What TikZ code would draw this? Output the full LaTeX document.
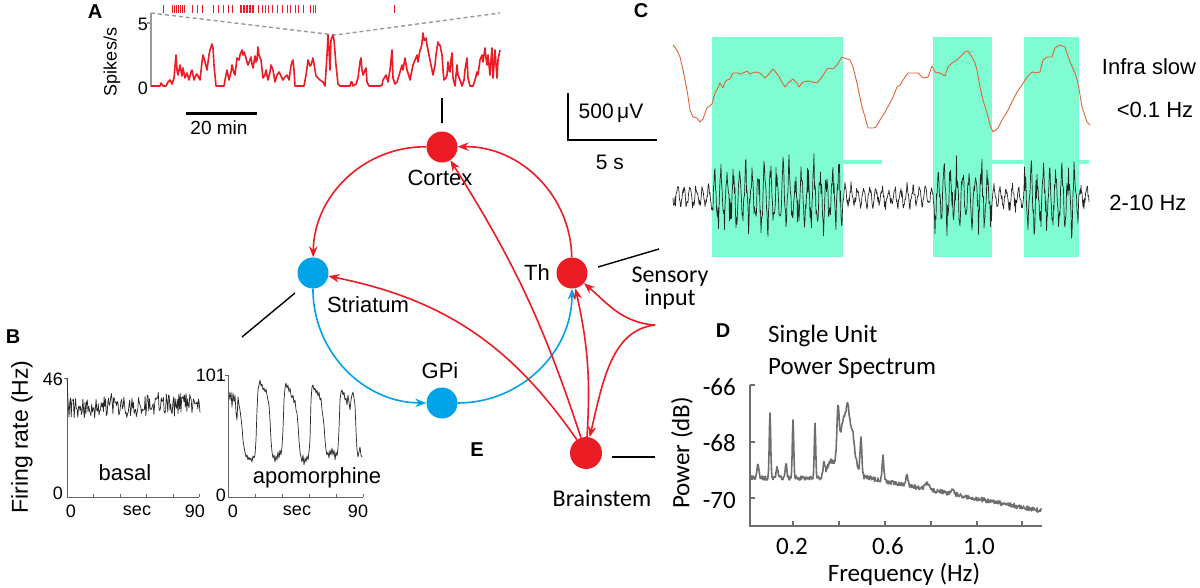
\documentclass[tikz,border=0pt]{standalone}
\usepackage{fontspec}
\setmainfont{Liberation Sans}
\newfontfamily\calib{Carlito}
\usetikzlibrary{arrows.meta}
\definecolor{nred}{HTML}{EC1C24}
\definecolor{nblue}{HTML}{00A2E8}
\definecolor{cgreen}{HTML}{80FCD2}
\definecolor{ctr}{HTML}{E2623A}
\definecolor{dgray}{HTML}{6E6E6E}
\definecolor{agray}{HTML}{999999}
\begin{document}
\begin{tikzpicture}[x=1pt,y=-1pt,
  neuron/.style={circle, inner sep=0pt, minimum size=31pt},
  redn/.style={neuron, fill=nred},
  bluen/.style={neuron, fill=nblue},
  lab/.style={font=\fontsize{22}{24}\selectfont, inner sep=0pt},
  clab/.style={font=\calib\fontsize{24}{26}\selectfont, inner sep=0pt},
  dlab/.style={font=\calib\fontsize{25}{27}\selectfont, inner sep=0pt},
  slab/.style={font=\fontsize{18}{20}\selectfont, inner sep=0pt},
  panel/.style={font=\bfseries\fontsize{20}{22}\selectfont, inner sep=0pt},
  rarr/.style={draw=nred, line width=1.6pt, -{Stealth[length=11pt,width=8.5pt]}},
  barr/.style={draw=nblue, line width=1.6pt, -{Stealth[length=11pt,width=8.5pt]}},
  pointer/.style={draw=black, line width=1.4pt},
  rast/.style={draw=nred, line width=0.8pt},
  atrace/.style={draw=nred, line width=1.6pt, line join=round},
  aaxis/.style={draw=agray, line width=1.4pt},
  adash/.style={draw=agray, line width=1.4pt, dash pattern=on 4pt off 3pt},
  ctrace/.style={draw=ctr, line width=0.9pt, line join=round},
  ktrace/.style={draw=black!85, line width=0.7pt, line join=round},
  btrace/.style={draw=black!85, line width=0.7pt, line join=round},
  baxis/.style={draw=black!60, line width=0.7pt},
  daxis/.style={draw=dgray, line width=1.4pt},
  dtrace/.style={draw=dgray, line width=1.6pt, line join=round},
  declare function={ing(\u)=(\u>39)*(\u<170)+(\u>260)*(\u<319)+(\u>351)*(\u<406);
                    pk(\u,\c,\w,\h)=\h*exp(-(min(abs(\u-\c)/\w,3))^2);}
]
\useasboundingbox (0,0) rectangle (1200,587);
\fill[white] (0,0) rectangle (1200,587);

% ================= Panel A =================
\node[panel] (labA) at (95,12) {A};
\foreach \t in {163,172,174,176,178,180,182,184,192,197,202,213,218,223,228,232,240,241.5,243,244.5,246,247.5,249,250.5,252,253.5,258,262,265,268,272,277,282,287,290,295,298,303,310,313,315,394}
  \draw[rast] (\t,5) -- (\t,13);
\draw[adash] (151,13) -- (335,35) -- (500,13);
\draw[aaxis] (151,13) -- (151,87);
\draw[aaxis] (147,23) -- (151,23);
\node[slab] (a5) at (143,24) {5};
\node[slab] (a0) at (143,88) {0};
\node[slab, rotate=90] (spk) at (112,62) {Spikes/s};
\draw[atrace] plot coordinates {(151,86) (160,86) (161,83) (163,86) (166,86) (168,82) (170,80) (172,84) (174,78) (176,55) (177,70) (178,75) (180,65) (182,76) (183,68) (185,78) (187,73) (189,80) (191,72) (192,70) (194,80) (196,75) (197,74) (200,80) (202,62) (203,55) (205,62) (207,70) (209,55) (210,50) (212,44) (213,48) (214,65) (216,86) (220,86) (224,86) (225,80) (227,70) (229,80) (231,72) (232,65) (234,73) (235,75) (237,58) (239,60) (240,55) (242,50) (243,55) (244,52) (246,58) (247,62) (248,65) (250,60) (251,57) (252,64) (253,68) (255,56) (256,62) (257,60) (258,47) (259,55) (261,60) (263,78) (265,75) (266,70) (268,80) (270,72) (271,65) (273,70) (275,82) (277,75) (279,72) (281,76) (282,78) (283,80) (285,77) (287,75) (289,80) (291,66) (292,62) (293,60) (294,70) (295,86) (300,86) (304,86) (306,75) (307,68) (308,60) (310,66) (311,65) (313,58) (314,64) (315,70) (316,76) (318,78) (320,80) (323,82) (325,86) (327,55) (328,35) (329,50) (330,70) (331,40) (333,35) (334,40) (336,65) (338,84) (340,86) (350,86) (351,82) (352,82) (353,86) (356,84) (358,78) (360,62) (361,58) (362,70) (363,75) (365,70) (366,68) (367,82) (369,86) (373,86) (380,86) (382,85) (383,80) (386,75) (388,82) (390,70) (391,60) (392,50) (393,78) (395,84) (397,82) (400,72) (402,65) (403,70) (405,58) (407,70) (409,76) (410,80) (412,70) (413,65) (415,60) (417,55) (418,62) (420,50) (421,48) (422,43) (423,33) (424,40) (425,40) (426,38) (427,45) (428,50) (430,60) (432,70) (433,75) (435,65) (436,55) (437,48) (438,42) (439,45) (440,45) (442,55) (443,70) (444,80) (446,78) (447,75) (448,62) (449,70) (450,72) (451,60) (452,53) (453,78) (455,86) (457,65) (458,75) (460,80) (462,86) (464,80) (465,70) (467,58) (468,78) (470,86) (473,86) (475,80) (477,72) (478,75) (480,60) (482,55) (483,62) (485,48) (486,58) (487,65) (488,55) (490,75) (491,60) (492,48) (493,78) (494,65) (495,50) (497,78) (498,60) (499,55) (500,50)};
\draw[line width=3pt] (186,113) -- (257,113);
\node[font=\fontsize{19}{21}\selectfont, inner sep=0pt] (a20) at (219,128) {20 min};

% ================= Panel C =================
\node[panel] (labC) at (641,11) {C};
\fill[cgreen] (712,37) rectangle (843,257);
\fill[cgreen] (933,37) rectangle (992,257);
\fill[cgreen] (1024,37) rectangle (1079,257);
\fill[cgreen] (843,160) rectangle (882,164);
\fill[cgreen] (992,160) rectangle (1023,164);
\fill[cgreen] (1079,160) rectangle (1089,164);
\draw[ctrace] plot coordinates {(673,45) (677,50) (680,57) (683,70) (687,90) (690,110) (693,117) (697,118) (700,122) (703,119) (706,110) (708,107) (712,104) (715,93) (718,88) (720,83) (723,88) (725,82) (727,80) (730,79) (733,73) (738,73) (741,74) (743,73) (747,71) (750,74) (755,72) (760,73) (765,78) (768,75) (773,69) (778,75) (782,82) (785,87) (788,83) (793,79) (797,83) (799,87) (803,82) (808,81) (813,82) (817,83) (822,77) (827,69) (830,68) (833,69) (837,65) (842,57) (847,59) (850,60) (853,67) (857,83) (862,107) (865,117) (868,128) (873,128) (876,127) (880,120) (885,112) (890,103) (893,97) (897,87) (900,85) (903,80) (908,73) (913,73) (918,73) (923,78) (928,77) (932,66) (935,72) (940,73) (945,76) (948,67) (952,63) (957,60) (960,57) (965,52) (968,51) (972,57) (975,63) (977,70) (980,87) (983,100) (987,113) (990,125) (993,132) (998,128) (1002,120) (1007,112) (1012,102) (1017,92) (1022,85) (1027,77) (1032,72) (1037,73) (1040,72) (1043,60) (1047,57) (1052,57) (1055,48) (1060,45) (1065,47) (1070,62) (1075,73) (1078,83) (1082,107) (1087,122) (1090,125)};
\pgfmathsetseed{4711}
\begin{scope}[shift={(673,0)}]
\draw[ktrace] plot[domain=0:416, samples=833, variable=\u] (\u, {197 + (15 + 27*ing(\u))*(0.85*sin(360*mod(\u,6.2)/6.2)*(0.3+0.7*rnd) + 0.25*rand)});
\end{scope}
\coordinate (sb1) at (568,93);
\coordinate (sb2) at (568,140);
\coordinate (sb3) at (657,140);
\draw[line width=1.2pt] (sb1) -- (sb2) -- (sb3);
\node[font=\fontsize{21}{23}\selectfont, inner sep=0pt] (uv) at (611,113) {500\,μV};
\node[font=\fontsize{21}{23}\selectfont, inner sep=0pt] (fs) at (610,162) {5 s};
\node[lab] (infra) at (1149,67) {Infra slow};
\node[lab] (lt01) at (1155,110) {<0.1 Hz};
\node[lab] (hz210) at (1148,203) {2-10 Hz};

% ================= Panel B =================
\node[panel] (labB) at (13,337) {B};
\node[font=\fontsize{23}{25}\selectfont, inner sep=0pt, rotate=90] (fr) at (22,437) {Firing rate (Hz)};
\draw[baxis] (64,378) -- (67,378) -- (67,497) -- (199,497);
\draw[baxis] (225,375) -- (228,375) -- (228,497) -- (363,497);
\foreach \t in {93,120,146,173,199} \draw[baxis] (\t,497) -- (\t,494);
\foreach \t in {255,282,309,336,363} \draw[baxis] (\t,497) -- (\t,494);
\node[slab, anchor=east] (b46) at (63,379) {46};
\node[slab] (b0a) at (58,493) {0};
\node[slab, anchor=east] (b101) at (226,375) {101};
\node[slab] (b0b) at (221,495) {0};
\node[slab] (bx0a) at (71,511) {0};
\node[slab] (bsa) at (137,511) {sec};
\node[slab] (b90a) at (195,511) {90};
\node[slab] (bx0b) at (233,511) {0};
\node[slab] (bsb) at (297,511) {sec};
\node[slab] (b90b) at (358,511) {90};
\node[lab] (basal) at (125,473) {basal};
\node[lab] (apo) at (317,478) {apomorphine};
\pgfmathsetseed{99}
\draw[btrace] (67,378) -- (68,400) -- plot[domain=69:200, samples=180, variable=\x] (\x, {409 - 0.05*(\x-67) + 10*rand + 8*rand*rand*rand});
\draw[btrace] plot coordinates {(229,392) (230,400) (231,392) (232,407) (233,393) (234,402) (235,395) (236,412) (237,420) (238,397) (239,405) (240,410) (241,418) (242,427) (243,440) (244,447) (245,452) (246,457) (247,455) (248,460) (249,457) (250,460) (251,458) (252,462) (253,456) (254,458) (255,455) (256,440) (257,410) (258,390) (259,385) (260,380) (261,386) (262,384) (263,390) (264,388) (265,392) (266,389) (267,395) (268,400) (269,405) (270,420) (271,440) (272,452) (273,458) (274,455) (275,462) (276,456) (277,460) (278,452) (279,458) (280,450) (281,455) (282,447) (283,430) (284,400) (285,388) (286,383) (287,388) (288,385) (289,392) (290,388) (291,395) (292,398) (293,395) (294,403) (295,400) (296,410) (297,413) (298,425) (299,440) (300,452) (301,457) (302,462) (303,455) (304,465) (305,458) (306,462) (307,456) (308,460) (309,452) (310,440) (311,400) (312,387) (313,385) (314,390) (315,388) (316,393) (317,390) (318,396) (319,392) (320,400) (321,398) (322,410) (323,417) (324,425) (325,440) (326,450) (327,455) (328,452) (329,458) (330,450) (331,455) (332,448) (333,455) (334,450) (335,460) (336,452) (337,456) (338,448) (339,430) (340,400) (341,392) (342,390) (343,395) (344,392) (345,400) (346,398) (347,405) (348,395) (349,402) (350,410) (351,400) (352,395) (353,392) (354,398) (355,405) (356,430) (357,450) (358,457) (359,452) (360,447) (361,455) (362,457)};

% ================= Panel D =================
\node[panel] (labD) at (723,331) {D};
\node[dlab, anchor=west] (su) at (768,336) {Single Unit};
\node[dlab, anchor=west] (ps) at (768,368) {Power Spectrum};
\node[dlab, anchor=east] (d66) at (736,387) {-66};
\node[dlab, anchor=east] (d68) at (736,443) {-68};
\node[dlab, anchor=east] (d70) at (736,500) {-70};
\node[dlab, rotate=90] (pdb) at (682,453) {Power (dB)};
\node[dlab] (f02) at (792,546) {0.2};
\node[dlab] (f06) at (888,546) {0.6};
\node[dlab] (f10) at (979,546) {1.0};
\node[dlab] (freq) at (904,574) {Frequency (Hz)};
\draw[daxis] (750,385) -- (750,526) -- (1042,526);
\foreach \t in {385,442,498} \draw[daxis] (750,\t) -- (755,\t);
\foreach \t in {793,839,885,931,977,1022} \draw[daxis] (\t,526) -- (\t,521);
\pgfmathsetseed{2024}
\draw[dtrace] plot[domain=751:1042, samples=583, variable=\x] (\x, {478 + 0.19*max(\x-868,0) + 2.2*rand
   - pk(\x,758,1.2,14) - pk(\x,770,1.0,64) - pk(\x,777,1.2,12) - pk(\x,786,1.2,15)
   - pk(\x,793,1.0,56) - pk(\x,815,1.0,55) - pk(\x,824,1.5,14) - pk(\x,830,4,14)
   - pk(\x,846,9,64) - pk(\x,838,1.5,45) - pk(\x,848,1.8,12) - pk(\x,853,2,10)
   - pk(\x,861,1.2,38) - pk(\x,883,1.2,24) - pk(\x,907,1.5,10) - pk(\x,927,3,5) - pk(\x,953,2,4)});

% ================= Network (E) =================
\node[panel] (labE) at (477,450) {E};
\node[redn] (cortex) at (442,147) {};
\node[bluen] (striatum) at (313,273) {};
\node[bluen] (gpi) at (442,403) {};
\node[redn] (th) at (572,273) {};
\node[redn, minimum size=32pt] (brainstem) at (586,453) {};
\node[lab] (cortexl) at (440,178) {Cortex};
\node[lab] (striatuml) at (368,305) {Striatum};
\node[lab] (gpil) at (440,371) {GPi};
\node[lab] (thl) at (537,273) {Th};
\node[clab] (brainsteml) at (602,498) {Brainstem};
\node[clab, align=center] (sensl) at (670,288) {Sensory\\[-3pt]input};
\coordinate (cusp) at (655,325);

\draw[rarr] (cortex) to[bend right=45] (striatum);
\draw[rarr] (th) to[bend right=45] (cortex);
\draw[barr] (striatum) to[bend right=45] (gpi);
\draw[barr] (gpi) to[bend right=45] (th);
\draw[rarr] (brainstem) to[bend right=7] (cortex);
\draw[rarr] (brainstem) to[bend right=22] (striatum);
\draw[rarr] (brainstem) to[bend right=8] (th);
\draw[rarr] (cusp) .. controls (622,323) and (606,302) .. (th);
\draw[rarr] (cusp) .. controls (612,330) and (603,380) .. (brainstem);

% pointer lines
\coordinate (pa1) at (442,98);  \coordinate (pa2) at (442,123);
\coordinate (pb1) at (242,337); \coordinate (pb2) at (295,293);
\coordinate (pc1) at (598,267); \coordinate (pc2) at (659,249);
\coordinate (pd1) at (612,457); \coordinate (pd2) at (655,457);
\draw[pointer] (pa1) -- (pa2);
\draw[pointer] (pb1) -- (pb2);
\draw[pointer] (pc1) -- (pc2);
\draw[pointer] (pd1) -- (pd2);
\end{tikzpicture}
\end{document}
